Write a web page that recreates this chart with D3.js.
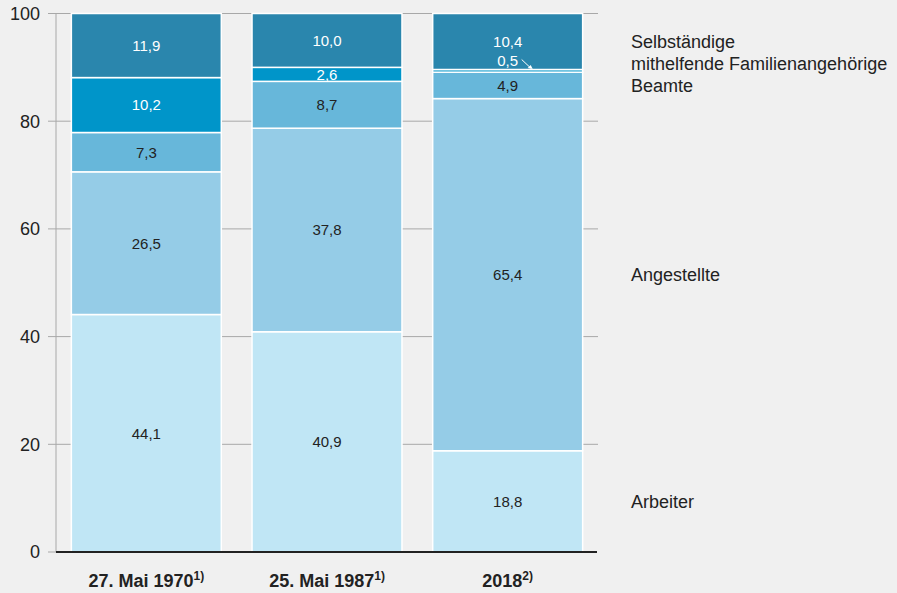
<!DOCTYPE html>
<html>
<head>
<meta charset="utf-8">
<script src="https://cdnjs.cloudflare.com/ajax/libs/d3/7.8.5/d3.min.js"></script>
<style>
  body { margin: 0; background: #f0f0f0; }
  svg { display: block; font-family: "Liberation Sans", Arial, sans-serif; }
</style>
</head>
<body>
<div id="chart"></div>
<script>
// Daten
var jahre = ["27. Mai 1970", "25. Mai 1987", "2018"];
var fussnoten = ["1)", "1)", "2)"];
var gruppen = ["Arbeiter", "Angestellte", "Beamte", "mithelfende Familienangehörige", "Selbständige"];
var arbeiter = [44.1, 40.9, 18.8];
var angestellte = [26.5, 37.8, 65.4];
var beamte = [7.3, 8.7, 4.9];
var mithelfende = [10.2, 2.6, 0.5];
var selbstaendige = [11.9, 10.0, 10.4];
var yTicks = [0, 20, 40, 60, 80, 100];

var farben = ["#c0e6f5", "#95cce7", "#67b7da", "#0095c9", "#2a86ad"];
var textFarben = ["#222", "#222", "#222", "#fff", "#fff"];

var w = 897, h = 593;
var margin = { top: 13.5, left: 56, right: 299, bottom: 41 };

var svg = d3.select("#chart").append("svg")
    .attr("width", w).attr("height", h);

var serien = [arbeiter, angestellte, beamte, mithelfende, selbstaendige];
var tabelle = jahre.map(function(j, i) {
  var o = { jahr: j };
  gruppen.forEach(function(g, k) { o[g] = serien[k][i]; });
  return o;
});
var stapel = d3.stack().keys(gruppen)(tabelle);

var x = d3.scaleBand().domain(jahre)
    .range([margin.left, w - margin.right])
    .paddingInner(0.17).paddingOuter(0.085);
var y = d3.scaleLinear().domain([0, 100])
    .range([h - margin.bottom, margin.top]);

// Gitterlinien
svg.append("g").selectAll("line")
  .data(yTicks.filter(function(d) { return d > 0; }))
  .enter().append("line")
    .attr("x1", 48).attr("x2", 598)
    .attr("y1", function(d) { return y(d); })
    .attr("y2", function(d) { return y(d); })
    .attr("stroke", "#a8a8a8").attr("stroke-width", 1);

svg.append("line")
  .attr("x1", 48).attr("x2", 56)
  .attr("y1", y(0)).attr("y2", y(0))
  .attr("stroke", "#a8a8a8");

svg.append("line")
  .attr("x1", margin.left).attr("x2", margin.left)
  .attr("y1", y(100)).attr("y2", y(0))
  .attr("stroke", "#a8a8a8");

// y-Achse Beschriftung
svg.append("g").selectAll("text")
  .data(yTicks).enter().append("text")
    .attr("x", 40).attr("y", function(d) { return y(d); })
    .attr("dy", "0.36em")
    .attr("text-anchor", "end")
    .attr("font-size", 18)
    .attr("fill", "#222")
    .text(function(d) { return d; });

// Balken
var schichten = svg.append("g").selectAll("g")
  .data(stapel).enter().append("g")
    .attr("fill", function(d, i) { return farben[i]; });

schichten.selectAll("rect")
  .data(function(d) { return d; })
  .enter().append("rect")
    .attr("x", function(d) { return x(d.data.jahr); })
    .attr("width", x.bandwidth())
    .attr("y", function(d) { return y(d[1]); })
    .attr("height", function(d) { return y(d[0]) - y(d[1]); })
    .attr("stroke", "#fff").attr("stroke-width", 1.5);

// Werte
stapel.forEach(function(s, k) {
  s.forEach(function(d, i) {
    var wert = d[1] - d[0];
    var cx = x(d.data.jahr) + x.bandwidth() / 2;
    var cy = y((d[0] + d[1]) / 2);
    var klein = wert < 1;
    if (klein) cy = y(d[1]) - 9;
    svg.append("text")
      .attr("x", cx).attr("y", cy).attr("dy", "0.36em")
      .attr("text-anchor", "middle")
      .attr("font-size", 15)
      .attr("fill", textFarben[k])
      .text(d3.format(".1f")(wert).replace(".", ","));
    if (klein) {
      var ax = cx + 14, ay = cy;
      svg.append("line")
        .attr("x1", ax).attr("y1", ay - 1)
        .attr("x2", ax + 9).attr("y2", y(d[1]) - 1.5)
        .attr("stroke", "#fff").attr("stroke-width", 1);
      svg.append("path")
        .attr("d", "M" + (ax + 11) + "," + (y(d[1]) - 0.5) +
                   " l-5,-1 l3,-3 z")
        .attr("fill", "#fff");
    }
  });
});

// Grundlinie
svg.append("line")
  .attr("x1", margin.left).attr("x2", 597)
  .attr("y1", y(0)).attr("y2", y(0))
  .attr("stroke", "#222").attr("stroke-width", 2);

// x-Achse Beschriftung
var xl = svg.append("g").selectAll("text")
  .data(jahre).enter().append("text")
    .attr("x", function(d) { return x(d) + x.bandwidth() / 2; })
    .attr("y", 587)
    .attr("text-anchor", "middle")
    .attr("font-size", 18)
    .attr("font-weight", "bold")
    .attr("fill", "#222");
xl.append("tspan").text(function(d) { return d; });
xl.append("tspan")
  .attr("dy", -7).attr("font-size", 12)
  .text(function(d, i) { return fussnoten[i]; });

// Legende am letzten Balken, von unten nach oben entzerrt
var letzte = stapel.map(function(s) {
  var d = s[s.length - 1];
  return y((d[0] + d[1]) / 2);
});
for (var k = 1; k < letzte.length; k++) {
  letzte[k] = Math.min(letzte[k], letzte[k - 1] - 22);
}
svg.append("g").selectAll("text")
  .data(gruppen).enter().append("text")
    .attr("x", 631)
    .attr("y", function(d, i) { return letzte[i]; })
    .attr("dy", "0.36em")
    .attr("font-size", 18)
    .attr("fill", "#222")
    .text(function(d) { return d; });
</script>
</body>
</html>
